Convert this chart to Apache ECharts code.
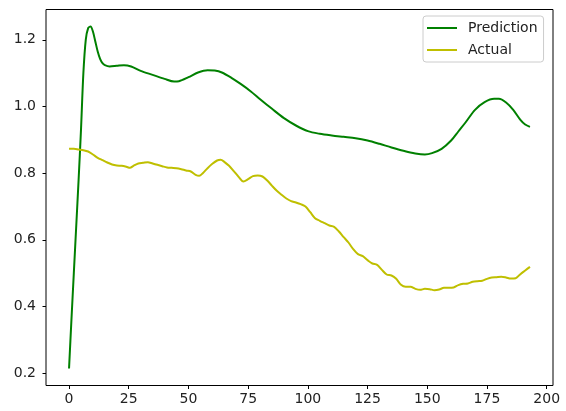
<!DOCTYPE html>
<html>
<head>
<meta charset="utf-8">
<script src="https://cdn.jsdelivr.net/npm/echarts@6/dist/echarts.min.js"></script>
<style>
  html, body { margin: 0; padding: 0; background: #fff; }
  #chart { width: 566px; height: 411px; }
</style>
</head>
<body>
<div id="chart"></div>
<script>
// Prediction curve (x = step, y = value)
const predX = [0, 1, 2, 3, 4, 5, 6, 7, 8, 9, 10, 11, 12, 13, 14, 15, 17, 20, 23, 26, 30, 35, 40, 44, 46, 50, 54, 58, 61, 64, 68, 72, 76, 80, 85, 90, 95, 100, 105, 110, 115, 120, 125, 130, 135, 140, 145, 149, 152, 156, 160, 163, 166, 170, 174, 178, 180, 183, 186, 189, 191, 193];
const predY = [0.214, 0.36, 0.50, 0.64, 0.78, 0.93, 1.10, 1.20, 1.235, 1.240, 1.225, 1.195, 1.165, 1.143, 1.130, 1.124, 1.120, 1.122, 1.124, 1.120, 1.107, 1.095, 1.083, 1.075, 1.076, 1.088, 1.102, 1.109, 1.108, 1.102, 1.086, 1.067, 1.046, 1.022, 0.993, 0.965, 0.943, 0.926, 0.918, 0.913, 0.909, 0.905, 0.898, 0.888, 0.877, 0.867, 0.859, 0.856, 0.860, 0.873, 0.898, 0.925, 0.952, 0.990, 1.013, 1.023, 1.023, 1.012, 0.990, 0.960, 0.946, 0.939];

// Actual curve
const actX = [0, 2, 4, 6, 8, 10, 12, 14, 16, 18, 20, 22, 24, 25.5, 27, 29, 31, 33, 35, 37, 39, 41, 43, 45, 47, 49, 51, 53, 54.5, 56, 58, 60, 62, 63.5, 65, 67, 69, 71, 73, 75, 77, 79, 81, 83, 85, 87, 89, 91, 93, 95, 97, 99, 101, 103, 105, 107, 109, 111, 113, 115, 117, 119, 121, 123, 125, 127, 129, 131, 133, 135, 137, 139, 141, 143, 145, 147, 149, 151, 153, 155, 157, 159, 161, 163, 165, 167, 169, 171, 173, 175, 177, 179, 181, 183, 185, 187, 189, 191, 193];
const actY = [0.873, 0.873, 0.871, 0.869, 0.865, 0.856, 0.846, 0.839, 0.832, 0.826, 0.823, 0.822, 0.819, 0.816, 0.822, 0.829, 0.831, 0.833, 0.829, 0.825, 0.821, 0.817, 0.816, 0.815, 0.812, 0.808, 0.805, 0.795, 0.792, 0.800, 0.815, 0.828, 0.838, 0.840, 0.834, 0.822, 0.806, 0.789, 0.775, 0.782, 0.791, 0.793, 0.790, 0.778, 0.762, 0.747, 0.735, 0.724, 0.716, 0.712, 0.707, 0.700, 0.683, 0.665, 0.657, 0.650, 0.643, 0.639, 0.625, 0.608, 0.592, 0.572, 0.557, 0.551, 0.539, 0.529, 0.525, 0.510, 0.496, 0.493, 0.483, 0.465, 0.459, 0.459, 0.453, 0.450, 0.453, 0.452, 0.449, 0.451, 0.456, 0.456, 0.457, 0.464, 0.468, 0.469, 0.474, 0.476, 0.477, 0.483, 0.487, 0.488, 0.489, 0.487, 0.484, 0.485, 0.497, 0.508, 0.519];

// Tick positions
const xTicks = [0, 25, 50, 75, 100, 125, 150, 175, 200];
const yTicks = [0.2, 0.4, 0.6, 0.8, 1.0, 1.2];

const pairs = (xs, ys) => xs.map((x, i) => [x, ys[i]]);

const font = 'DejaVu Sans';
const textColor = '#222222';
const chart = echarts.init(document.getElementById('chart'), null, { renderer: 'canvas' });

chart.setOption({
  animation: false,
  backgroundColor: '#ffffff',
  grid: {
    left: 46, top: 9.5, width: 507, height: 376,
    show: true, borderColor: '#000000', borderWidth: 1, backgroundColor: 'transparent'
  },
  legend: {
    orient: 'vertical',
    left: 423, top: 16,
    padding: [4, 6, 4, 4],
    itemGap: 6,
    itemWidth: 30, itemHeight: 2,
    icon: 'rect',
    backgroundColor: '#ffffff',
    borderColor: '#cccccc', borderWidth: 1, borderRadius: 3,
    textStyle: { fontFamily: font, fontSize: 14, color: textColor, lineHeight: 16, padding: [0, 0, 0, 6] },
    data: ['Prediction', 'Actual']
  },
  xAxis: {
    type: 'value',
    min: -9.65, max: 202.65,
    axisLine: { show: false, onZero: false },
    splitLine: { show: false },
    axisTick: { show: true, length: 3.5, lineStyle: { color: '#000000' }, customValues: xTicks },
    axisLabel: {
      customValues: xTicks, margin: 7,
      fontFamily: font, fontSize: 14, color: textColor,
      formatter: v => String(v)
    }
  },
  yAxis: {
    type: 'value',
    min: 0.163, max: 1.291,
    axisLine: { show: false, onZero: false },
    splitLine: { show: false },
    axisTick: { show: true, length: 3.5, lineStyle: { color: '#000000' }, customValues: yTicks },
    axisLabel: {
      customValues: yTicks, margin: 10,
      fontFamily: font, fontSize: 14, color: textColor,
      formatter: v => v.toFixed(1)
    }
  },
  series: [
    {
      name: 'Prediction', type: 'line',
      data: pairs(predX, predY),
      showSymbol: false, smooth: 0.3,
      itemStyle: { color: '#008000' },
      lineStyle: { color: '#008000', width: 2 }
    },
    {
      name: 'Actual', type: 'line',
      data: pairs(actX, actY),
      showSymbol: false, smooth: 0.3,
      itemStyle: { color: '#bfbf00' },
      lineStyle: { color: '#bfbf00', width: 2 }
    }
  ]
});
</script>
</body>
</html>
